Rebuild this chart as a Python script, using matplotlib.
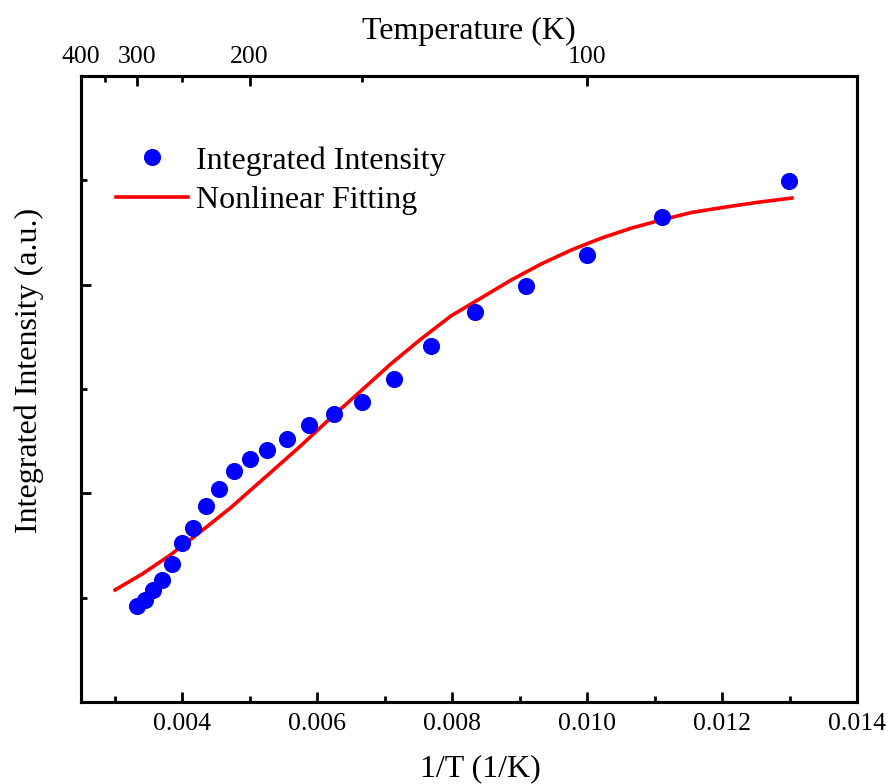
import numpy as np
import matplotlib
matplotlib.use("Agg")
import matplotlib.pyplot as plt
from matplotlib.ticker import MultipleLocator, NullFormatter

plt.rcParams['font.family'] = ['Liberation Serif', 'DejaVu Serif']

# mesures : temperature (K) et intensite integree (u.a.)
temp_K = [300, 290, 280, 270, 260, 250, 240, 230, 220, 210, 200, 190, 180,
          170, 160, 150, 140, 130, 120, 110, 100, 90, 77]
intensite = [0.460, 0.489, 0.537, 0.585, 0.661, 0.762, 0.834, 0.939, 1.021,
             1.107, 1.164, 1.207, 1.260, 1.327, 1.380, 1.437, 1.548, 1.706,
             1.869, 1.993, 2.142, 2.324, 2.496]

# courbe d'ajustement
fit_x = [0.003005, 0.003406, 0.003822, 0.004268, 0.004714, 0.005234,
         0.005754, 0.006200, 0.006646, 0.007091, 0.007537, 0.007983,
         0.008429, 0.008875, 0.009320, 0.009766, 0.010212, 0.010658,
         0.011103, 0.011549, 0.011995, 0.012515, 0.013035]
fit_y = [0.537, 0.613, 0.704, 0.815, 0.930, 1.078, 1.227, 1.361, 1.490,
         1.620, 1.739, 1.850, 1.936, 2.022, 2.099, 2.166, 2.223, 2.271,
         2.310, 2.346, 2.369, 2.394, 2.415]

# axe du haut
temp_major = [400, 300, 200, 100]
temp_minor = [350, 250, 150]

inv_T = [1.0 / t for t in temp_K]

fig = plt.figure(figsize=(8.89, 7.84), dpi=100)
ax = fig.add_axes([0.0911, 0.1046, 0.8729, 0.7985])

ax.plot(fit_x, fit_y, color='#ff0000', lw=2.6, label='Nonlinear Fitting',
        solid_joinstyle='round', zorder=2)
ax.plot(inv_T, intensite, 'o', color='#0000ff', ms=11.3, mec='#0000ff',
        label='Integrated Intensity', zorder=3)

ax.set_xlim(0.0025, 0.014)
ax.set_ylim(0, 3)
ax.xaxis.set_minor_locator(MultipleLocator(0.001))
ax.set_xticks([0.004, 0.006, 0.008, 0.010, 0.012, 0.014])
ax.set_xticklabels(['0.004', '0.006', '0.008', '0.010', '0.012', '0.014'])
ax.yaxis.set_major_locator(MultipleLocator(1))
ax.yaxis.set_minor_locator(MultipleLocator(0.5))
ax.yaxis.set_major_formatter(NullFormatter())

for s in ax.spines.values():
    s.set_linewidth(2.2)
ax.tick_params(which='major', direction='in', length=7, width=2.0,
               labelsize=18.5, pad=8, top=False, right=False)
ax.tick_params(which='minor', direction='in', length=4, width=2.0,
               top=False, right=False)

ax.set_xlabel('1/T (1/K)', fontsize=23)
ax.xaxis.set_label_coords(0.515, -0.083)
ax.set_ylabel('Integrated Intensity (a.u.)', fontsize=23)
ax.yaxis.set_label_coords(-0.048, 0.53)

ax2 = ax.twiny()
ax2.set_xlim(ax.get_xlim())
ax2.set_xticks([1.0 / t for t in temp_major])
ax2.set_xticklabels([str(t) for t in temp_major])
ax2.set_xticks([1.0 / t for t in temp_minor], minor=True)
ax2.tick_params(which='major', direction='in', length=7, width=2.0,
                labelsize=18.5, pad=6)
ax2.tick_params(which='minor', direction='in', length=4, width=2.0)
ax2.set_xlabel('Temperature (K)', fontsize=23, labelpad=5)
for s in ax2.spines.values():
    s.set_linewidth(2.2)

handles, labels = ax.get_legend_handles_labels()
leg = ax.legend(handles[::-1], labels[::-1], loc='upper left',
                bbox_to_anchor=(0.045, 0.888), frameon=False, fontsize=23,
                handlelength=2.25, handletextpad=0.25, labelspacing=0.33,
                borderpad=0, borderaxespad=0, numpoints=1)

fig.savefig('out.png', dpi=100)
